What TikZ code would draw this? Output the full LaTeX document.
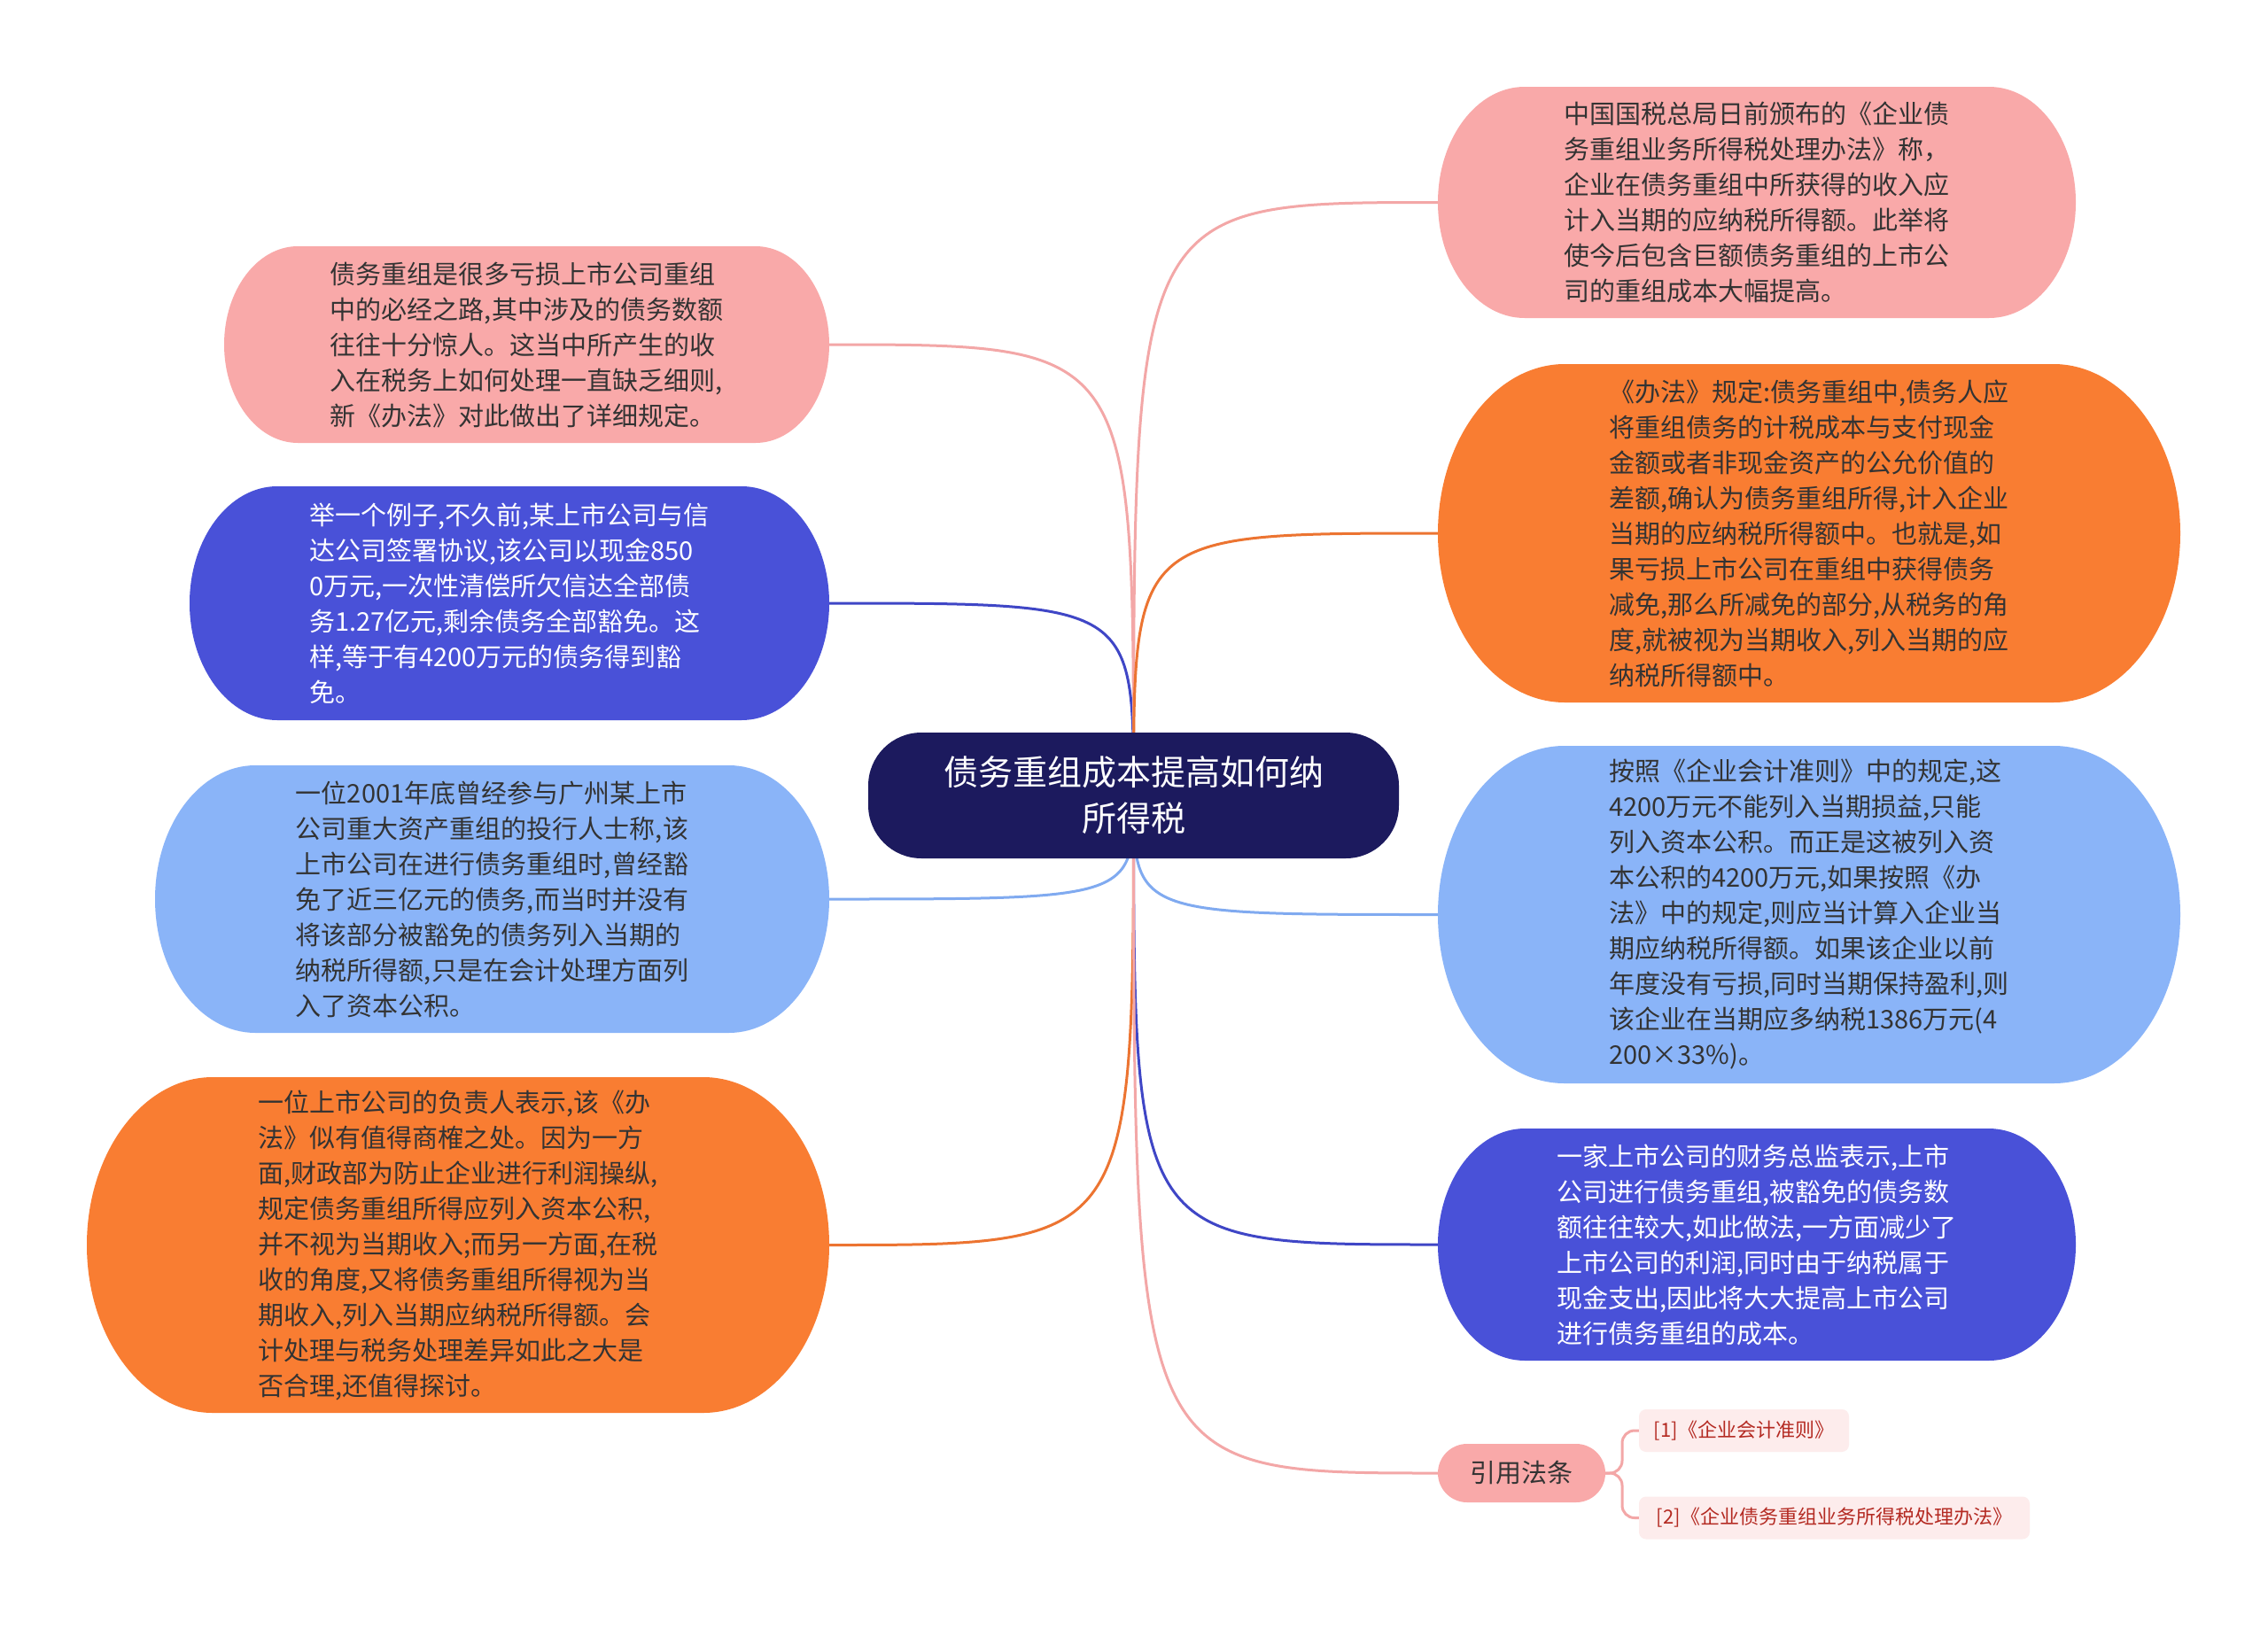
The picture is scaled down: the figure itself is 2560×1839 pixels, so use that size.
\documentclass[tikz,border=0pt]{standalone}
\usepackage{fontspec}
\setmainfont{Noto Sans CJK SC}
\usetikzlibrary{calc}
\pgfdeclarelayer{bg}
\pgfdeclarelayer{mid}
\pgfsetlayers{bg,mid,main}
\definecolor{pinkF}{HTML}{F9A9A9}
\definecolor{orangeF}{HTML}{F97D32}
\definecolor{dblueF}{HTML}{4951D8}
\definecolor{lblueF}{HTML}{8AB4F8}
\definecolor{rootF}{HTML}{1C1A5E}
\definecolor{pinkL}{HTML}{F3A7A7}
\definecolor{orangeL}{HTML}{EC7431}
\definecolor{dblueL}{HTML}{3F46C6}
\definecolor{lblueL}{HTML}{80AAF0}
\definecolor{darkT}{HTML}{333333}
\definecolor{refF}{HTML}{FDECEC}
\definecolor{refT}{HTML}{B42A22}
\tikzset{
  txt/.style={align=left, inner sep=0pt, outer sep=0pt, font=\fontsize{29}{40}\selectfont},
  conn/.style={line width=3pt, line cap=round},
  rootst/.style={fill=rootF, rounded corners=60pt, minimum width=599pt, minimum height=142pt,
    align=center, text=white, inner sep=0pt, outer sep=0pt, font=\fontsize{39}{52}\selectfont},
  refst/.style={fill=pinkF, rounded corners=33pt, minimum width=189pt, minimum height=66pt,
    text=darkT, inner sep=0pt, outer sep=0pt, font=\fontsize{29}{36}\selectfont},
  citest/.style={fill=refF, rounded corners=8pt, minimum height=48pt,
    text=refT, inner sep=0pt, outer sep=0pt, font=\fontsize{22}{28}\selectfont},
}
% name, cx, cy, w, h, fill, text colour, text
\newcommand\mmnode[8]{%
  \pgfmathsetmacro\pL{#2-#4/2}%
  \pgfmathsetmacro\pR{#2+#4/2}%
  \pgfmathsetmacro\pT{#3-#5/2}%
  \pgfmathsetmacro\pB{#3+#5/2}%
  \pgfmathsetmacro\pr{0.375*#5}%
  \pgfmathsetmacro\pk{0.5523*#5/2}%
  \pgfmathsetmacro\pa{\pL+\pr}%
  \pgfmathsetmacro\pb{\pR-\pr}%
  \pgfmathsetmacro\pac{\pL+0.4477*\pr}%
  \pgfmathsetmacro\pbc{\pR-0.4477*\pr}%
  \pgfmathsetmacro\pyu{#3-\pk}%
  \pgfmathsetmacro\pyd{#3+\pk}%
  \begin{pgfonlayer}{mid}%
  \fill[#6] (\pa,\pT) -- (\pb,\pT) .. controls (\pbc,\pT) and (\pR,\pyu) .. (\pR,#3)
    .. controls (\pR,\pyd) and (\pbc,\pB) .. (\pb,\pB) -- (\pa,\pB)
    .. controls (\pac,\pB) and (\pL,\pyd) .. (\pL,#3)
    .. controls (\pL,\pyu) and (\pac,\pT) .. (\pa,\pT) -- cycle;
  \end{pgfonlayer}%
  \node[txt, text=#7, minimum width=#4pt, minimum height=#5pt] (#1) at (#2,#3) {#8};%
}
\begin{document}
\begin{tikzpicture}[x=1pt, y=-1pt]
\begin{pgfonlayer}{bg}
\fill[white] (0,0) rectangle (2560,1839);
\end{pgfonlayer}
\useasboundingbox (0,0) rectangle (2560,1839);

\node[rootst] (root) at (1279.5,898) {债务重组成本提高如何纳\\所得税};

\mmnode{l1}{594.5}{389}{683}{222}{pinkF}{darkT}{债务重组是很多亏损上市公司重组\\中的必经之路,其中涉及的债务数额\\往往十分惊人。这当中所产生的收\\入在税务上如何处理一直缺乏细则,\\新《办法》对此做出了详细规定。}

\mmnode{l2}{575}{681}{722}{264}{dblueF}{white}{举一个例子,不久前,某上市公司与信\\达公司签署协议,该公司以现金850\\0万元,一次性清偿所欠信达全部债\\务1.27亿元,剩余债务全部豁免。这\\样,等于有4200万元的债务得到豁\\免。}

\mmnode{l3}{555.5}{1015}{761}{302}{lblueF}{darkT}{一位2001年底曾经参与广州某上市\\公司重大资产重组的投行人士称,该\\上市公司在进行债务重组时,曾经豁\\免了近三亿元的债务,而当时并没有\\将该部分被豁免的债务列入当期的\\纳税所得额,只是在会计处理方面列\\入了资本公积。}

\mmnode{l4}{517}{1405.5}{838}{379}{orangeF}{darkT}{一位上市公司的负责人表示,该《办\\法》似有值得商榷之处。因为一方\\面,财政部为防止企业进行利润操纵,\\规定债务重组所得应列入资本公积,\\并不视为当期收入;而另一方面,在税\\收的角度,又将债务重组所得视为当\\期收入,列入当期应纳税所得额。会\\计处理与税务处理差异如此之大是\\否合理,还值得探讨。}

\mmnode{r1}{1983}{228.5}{720}{261}{pinkF}{darkT}{中国国税总局日前颁布的《企业债\\务重组业务所得税处理办法》称，\\企业在债务重组中所获得的收入应\\计入当期的应纳税所得额。此举将\\使今后包含巨额债务重组的上市公\\司的重组成本大幅提高。}

\mmnode{r2}{2042}{602}{838}{382}{orangeF}{darkT}{《办法》规定:债务重组中,债务人应\\将重组债务的计税成本与支付现金\\金额或者非现金资产的公允价值的\\差额,确认为债务重组所得,计入企业\\当期的应纳税所得额中。也就是,如\\果亏损上市公司在重组中获得债务\\减免,那么所减免的部分,从税务的角\\度,就被视为当期收入,列入当期的应\\纳税所得额中。}

\mmnode{r3}{2042}{1032.5}{838}{381}{lblueF}{darkT}{按照《企业会计准则》中的规定,这\\4200万元不能列入当期损益,只能\\列入资本公积。而正是这被列入资\\本公积的4200万元,如果按照《办\\法》中的规定,则应当计算入企业当\\期应纳税所得额。如果该企业以前\\年度没有亏损,同时当期保持盈利,则\\该企业在当期应多纳税1386万元(4\\200×33\%)。}

\mmnode{r4}{1983}{1405}{720}{262}{dblueF}{white}{一家上市公司的财务总监表示,上市\\公司进行债务重组,被豁免的债务数\\额往往较大,如此做法,一方面减少了\\上市公司的利润,同时由于纳税属于\\现金支出,因此将大大提高上市公司\\进行债务重组的成本。}

\node[refst] (ref) at (1717.5,1663) {引用法条};
\node[citest, minimum width=237pt] (c1) at (1968.5,1615) {[1]《企业会计准则》};
\node[citest, minimum width=441pt] (c2) at (2070.5,1713.5) {[2]《企业债务重组业务所得税处理办法》};

\begin{pgfonlayer}{bg}
\draw[conn, pinkL] (root.center) .. controls (root.center |- l1.east) .. (l1.east);
\draw[conn, dblueL] (root.center) .. controls (root.center |- l2.east) .. (l2.east);
\draw[conn, lblueL] (root.center) .. controls (root.center |- l3.east) .. (l3.east);
\draw[conn, orangeL] (root.center) .. controls (root.center |- l4.east) .. (l4.east);
\draw[conn, pinkL] (root.center) .. controls (root.center |- r1.west) .. (r1.west);
\draw[conn, orangeL] (root.center) .. controls (root.center |- r2.west) .. (r2.west);
\draw[conn, lblueL] (root.center) .. controls (root.center |- r3.west) .. (r3.west);
\draw[conn, dblueL] (root.center) .. controls (root.center |- r4.west) .. (r4.west);
\draw[conn, pinkL] (root.center) .. controls (root.center |- ref.west) .. (ref.west);
\draw[conn, pinkL, rounded corners=14pt] (ref.east) -- ++(19,0) |- (c1.west);
\draw[conn, pinkL, rounded corners=14pt] (ref.east) -- ++(19,0) |- (c2.west);
\end{pgfonlayer}
\end{tikzpicture}
\end{document}
